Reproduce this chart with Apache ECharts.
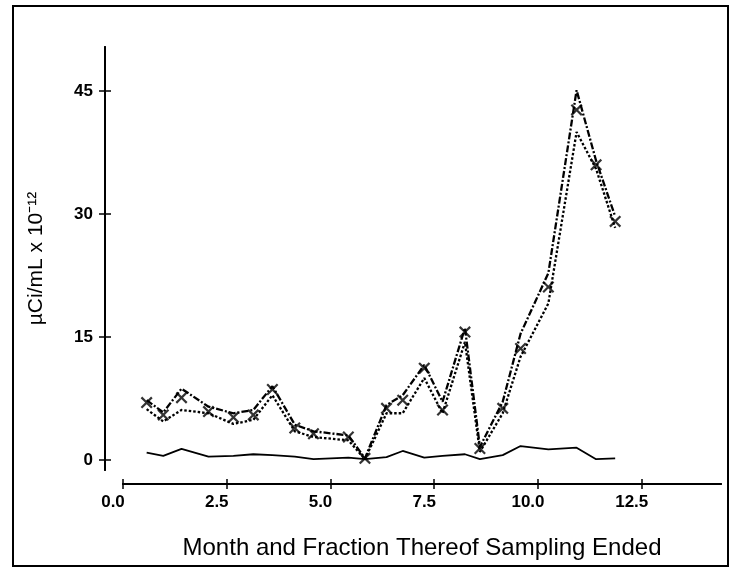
<!DOCTYPE html>
<html><head><meta charset="utf-8">
<script src="https://cdn.jsdelivr.net/npm/echarts@6/dist/echarts.min.js"></script>
<style>html,body{margin:0;padding:0;background:#fff}#c{width:733px;height:572px}</style>
</head><body><div id="c"></div>
<script>
// Sampling end (month and fraction)
const months = [0.57,0.97,1.41,2.06,2.66,3.14,3.60,4.14,4.59,5.43,5.83,6.35,6.74,7.26,7.70,8.24,8.60,9.15,9.58,10.25,10.93,11.40,11.86];
// upper dash-dot curve
const upperVals = [7.3,5.8,8.7,6.5,5.7,6.1,9.0,4.3,3.5,3.0,0.2,6.7,7.9,11.6,7.1,16.1,1.6,7.1,15.4,22.8,45.1,36.5,29.7];
// lower dotted curve
const lowerVals = [6.2,4.7,6.1,5.7,4.4,4.9,7.9,3.5,2.8,2.4,0.1,5.7,5.7,10.0,5.7,14.4,1.0,5.7,12.6,19.1,40.0,35.5,28.3];
// x-marked points
const markVals = [7.0,5.5,7.6,5.9,5.2,5.5,8.6,3.9,3.2,2.8,0.2,6.3,7.3,11.2,6.1,15.6,1.4,6.3,13.6,21.1,42.7,36.0,29.1];
// solid background curve
const solidVals = [0.9,0.5,1.35,0.4,0.5,0.7,0.6,0.4,0.1,0.3,0.1,0.35,1.1,0.3,0.5,0.7,0.1,0.6,1.7,1.3,1.5,0.1,0.2];
const xTicks = [0,2.5,5,7.5,10,12.5];
const xTickLabels = ['0.0','2.5','5.0','7.5','10.0','12.5'];
const yTicks = [0,15,30,45];

const pair = v => months.map((m,i)=>[m,v[i]]);
const xSym = 'path://M0,1.3 L1.3,0 L5,3.7 L8.7,0 L10,1.3 L6.3,5 L10,8.7 L8.7,10 L5,6.3 L1.3,10 L0,8.7 L3.7,5 Z';
const lblFont = {fontFamily:'Liberation Sans, Arial, sans-serif', fontWeight:'bold', fontSize:17, color:'#000'};

const chart = echarts.init(document.getElementById('c'), null, {renderer:'canvas'});
const baseX = {
  type:'value', min:0, max:14.41, position:'bottom', offset:14,
  axisLine:{show:true, onZero:false, lineStyle:{color:'#000', width:2}},
  splitLine:{show:false}
};
const baseY = {
  type:'value', min:-1.22, max:50.37, position:'left', offset:18,
  axisLine:{show:true, onZero:false, lineStyle:{color:'#000', width:2}},
  splitLine:{show:false}
};
chart.setOption({
  animation:false,
  backgroundColor:'#fff',
  grid:{left:123, right:12, top:47, bottom:102, containLabel:false},
  xAxis:[
    Object.assign({}, baseX, {
      axisTick:{show:true, length:5, customValues:xTicks, lineStyle:{color:'#000', width:1.5}},
      axisLabel:Object.assign({show:true, margin:10, padding:[0,20,0,0], customValues:xTicks,
        formatter:v=>xTickLabels[xTicks.indexOf(v)] ?? ''}, lblFont),
      name:'Month and Fraction Thereof Sampling Ended', nameLocation:'middle', nameGap:52,
      nameTextStyle:{fontFamily:'Liberation Sans, Arial, sans-serif', fontSize:24, color:'#000'}
    }),
    Object.assign({}, baseX, {
      axisTick:{show:true, inside:true, length:5, customValues:xTicks, lineStyle:{color:'#000', width:1.5}},
      axisLabel:{show:false}
    })
  ],
  yAxis:[
    Object.assign({}, baseY, {
      axisTick:{show:true, length:6, customValues:yTicks, lineStyle:{color:'#000', width:1.5}},
      axisLabel:Object.assign({show:true, margin:12, customValues:yTicks}, lblFont),
      name:'µCi/mL x 10⁻¹²', nameLocation:'middle', nameGap:58, nameRotate:90,
      nameTextStyle:{fontFamily:'Liberation Sans, Arial, sans-serif', fontSize:21, color:'#000'}
    }),
    Object.assign({}, baseY, {
      axisTick:{show:true, inside:true, length:6, customValues:yTicks, lineStyle:{color:'#000', width:1.5}},
      axisLabel:{show:false}
    })
  ],
  series:[
    {type:'line', data:pair(solidVals), symbol:'none', lineStyle:{color:'#000', width:1.8}, z:2},
    {type:'line', data:pair(upperVals), symbol:'none', lineStyle:{color:'#000', width:2.3, type:[7,2,2,2]}, z:3},
    {type:'line', data:pair(lowerVals), symbol:'none', lineStyle:{color:'#000', width:2.3, type:[2.5,2]}, z:3},
    {type:'scatter', data:pair(markVals), symbol:xSym, symbolSize:12, itemStyle:{color:'#000'}, z:4}
  ],
  graphic:[
    {type:'rect', shape:{x:13, y:6, width:715, height:560}, style:{fill:'none', stroke:'#000', lineWidth:2}, silent:true}
  ]
});
</script></body></html>
